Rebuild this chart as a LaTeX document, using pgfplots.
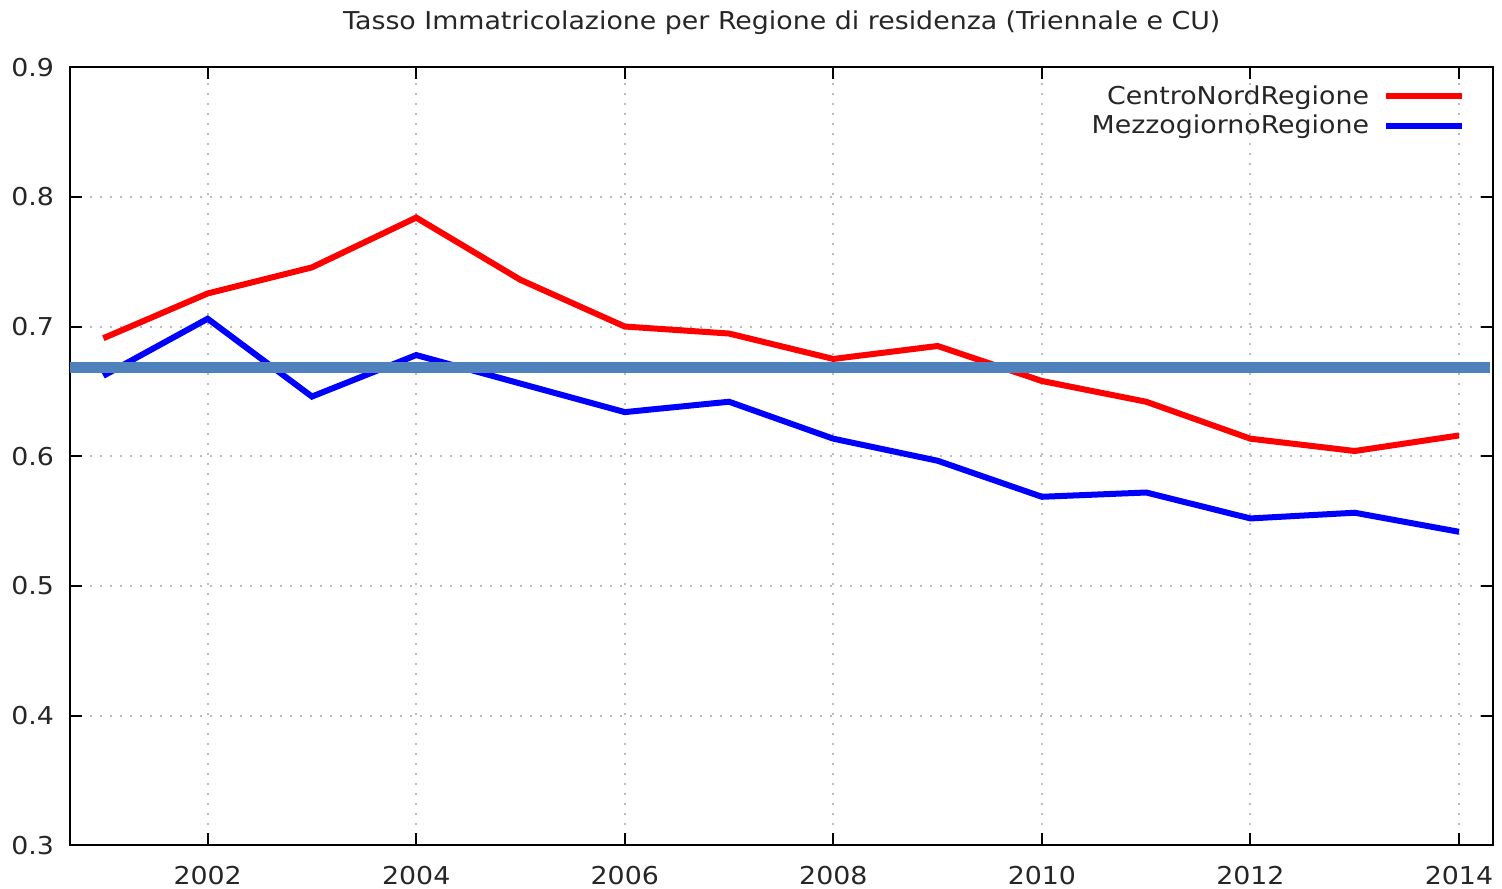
\documentclass[border=0pt]{standalone}
\usepackage{pgfplots}
\pgfplotsset{compat=1.18}
\usepackage{fontspec}
\setmainfont{DejaVu Sans}[FakeStretch=1.09]
\definecolor{steel}{HTML}{4F81BD}
\definecolor{gridc}{HTML}{BBBBBB}
\begin{document}
\begin{tikzpicture}
\useasboundingbox (-35pt,-21.8pt) rectangle (716pt,422.6pt);
\begin{axis}[
  at={(0pt,0pt)}, anchor=south west,
  scale only axis, width=711.7pt, height=389pt,
  xmin=2000.68, xmax=2014.33, ymin=0.3, ymax=0.9,
  xtick={2002,2004,2006,2008,2010,2012,2014},
  ytick={0.3,0.4,0.5,0.6,0.7,0.8,0.9},
  tick align=inside, major tick length=6pt,
  tick style={black, line width=1pt},
  axis line style={black, line width=1pt},
  grid=major,
  major grid style={gridc, line width=1pt, dash pattern=on 1pt off 4pt},
  /pgf/number format/assume math mode=true,
  tick label style={font=\fontsize{12.3}{14}\selectfont, text=black!85},
  xticklabel style={/pgf/number format/1000 sep={}, yshift=-7pt},
  yticklabel style={/pgf/number format/fixed, /pgf/number format/precision=1, /pgf/number format/fixed zerofill, xshift=-4.5pt},
  title={Tasso Immatricolazione per Regione di residenza (Triennale e CU)},
  title style={at={(axis description cs:0.5,1)}, anchor=center, yshift=16pt, inner sep=0pt, font=\fontsize{12.3}{14}\selectfont, text=black!85},
  legend style={at={(axis description cs:1,1)}, anchor=north east, xshift=-14pt, yshift=-7pt, draw=none, fill=none, inner sep=0pt, font=\fontsize{12.3}{14}\selectfont, text=black!85, row sep=0pt},
  legend cell align=right,
  legend plot pos=right,
  legend image code/.code={\path (0pt,0pt); \draw[#1] (5pt,0pt) -- (43pt,0pt);},
]
\addplot[red, line width=3pt] coordinates {
(2001,0.691) (2002,0.7255) (2003,0.7456) (2004,0.784) (2005,0.736) (2006,0.700) (2007,0.6946) (2008,0.675) (2009,0.685) (2010,0.658) (2011,0.642) (2012,0.6135) (2013,0.604) (2014,0.616)};
\addlegendentry{CentroNordRegione}
\addplot[blue, line width=3pt] coordinates {
(2001,0.662) (2002,0.706) (2003,0.646) (2004,0.678) (2005,0.656) (2006,0.634) (2007,0.642) (2008,0.6135) (2009,0.5965) (2010,0.5687) (2011,0.572) (2012,0.552) (2013,0.5564) (2014,0.5417)};
\addlegendentry{MezzogiornoRegione}
\addplot[steel, line width=5.5pt, forget plot] coordinates {(2000.68,0.6683) (2014.3,0.6683)};
\end{axis}
\end{tikzpicture}
\end{document}
